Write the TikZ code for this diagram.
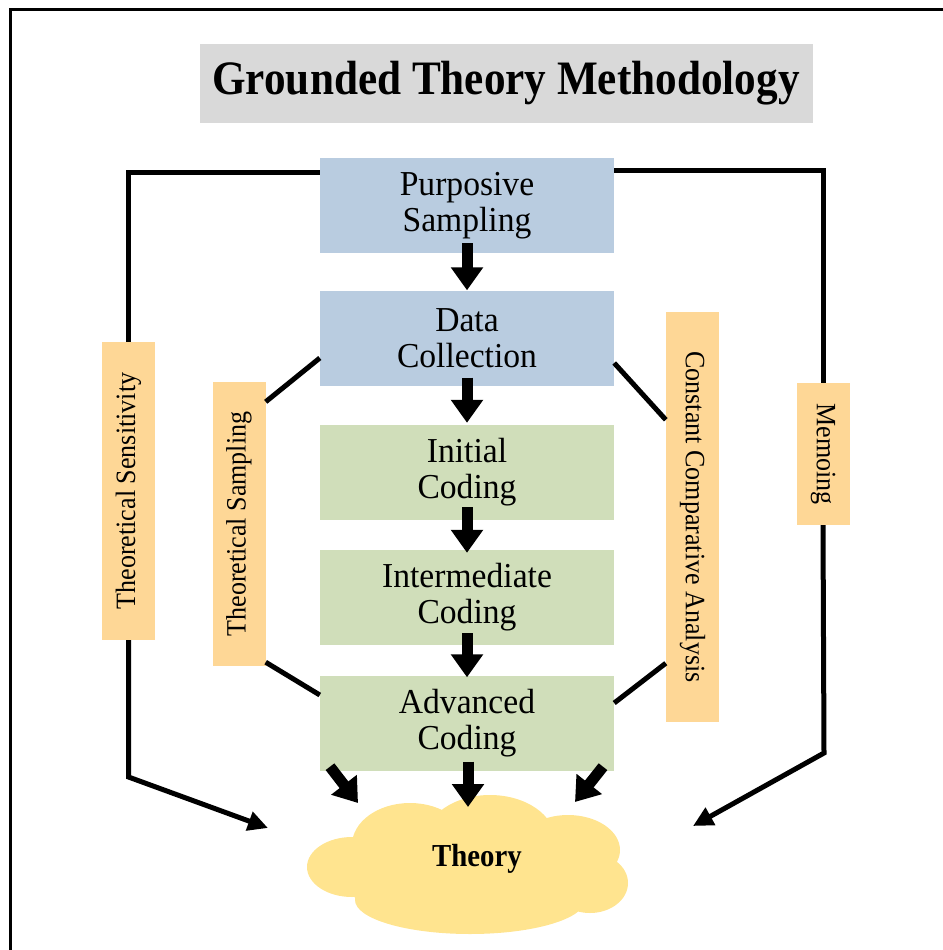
\documentclass[tikz,border=0pt]{standalone}
\usepackage{fontspec}
\setmainfont[FakeStretch=0.9]{Liberation Serif}
\newfontfamily\stagefont[FakeStretch=0.96]{Liberation Serif}
\newfontfamily\sidefont[FakeStretch=0.93]{Liberation Serif}
\usetikzlibrary{arrows.meta}

\definecolor{titlegray}{HTML}{D9D9D9}
\definecolor{stageblue}{HTML}{B9CCE0}
\definecolor{stagegreen}{HTML}{D0DEBA}
\definecolor{sideorange}{HTML}{FED796}
\definecolor{cloudyellow}{HTML}{FFE48F}

\begin{document}
\begin{tikzpicture}[x=1pt,y=-1pt,
  stage/.style={minimum width=294pt, minimum height=95pt, inner sep=0pt,
    align=center, font=\stagefont\fontsize{35}{36}\selectfont},
  planstage/.style={stage, fill=stageblue},
  codestage/.style={stage, fill=stagegreen},
  sidebox/.style={fill=sideorange, inner sep=0pt, minimum height=53pt,
    font=\sidefont\fontsize{28}{30}\selectfont},
  link/.style={line width=5pt},
  linkarrow/.style={link, -{Triangle[length=20pt,width=19pt]}},
  flow/.style={line width=11pt, -{Triangle[length=23pt,width=31pt]}},
]
\useasboundingbox (0,0) rectangle (942,950);

% frame
\draw[line width=3pt] (10.5,960) -- (10.5,9.5) -- (950,9.5);

% title
\node[fill=titlegray, minimum width=613pt, minimum height=79pt, inner sep=0pt,
  font=\fontsize{48}{50}\selectfont\bfseries] (title) at (506,83.5)
  {Grounded Theory Methodology};

% stages
\node[planstage] (ps)  at (467,205.5) {Purposive\\Sampling};
\node[planstage] (dc)  at (467,338)   {Data\\Collection};
\node[codestage] (ic)  at (467,472.5) {Initial\\Coding};
\node[codestage] (imc) at (467,597.5) {Intermediate\\Coding};
\node[codestage] (adv) at (467,723)   {Advanced\\Coding};

% side labels
\node[sidebox, rotate=90,  minimum width=298pt] (tsens) at (128.5,491) {Theoretical Sensitivity};
\node[sidebox, rotate=90,  minimum width=284pt] (tsamp) at (239,524)   {Theoretical Sampling};
\node[sidebox, rotate=-90, minimum width=410pt] (cca)   at (692.5,517) {Constant Comparative Analysis};
\node[sidebox, rotate=-90, minimum width=142pt] (memo)  at (823,454)   {Memoing};

% theory cloud, built from overlapping lobes
\fill[cloudyellow]
  (352,867) ellipse [x radius=45, y radius=30]
  (410,845) ellipse [x radius=58, y radius=42]
  (490,840) ellipse [x radius=65, y radius=45]
  (568,850) ellipse [x radius=52, y radius=35]
  (590,883) ellipse [x radius=38, y radius=30]
  (470,900) ellipse [x radius=115, y radius=34]
  (395,890) ellipse [x radius=42, y radius=26]
  (470,868) ellipse [x radius=130, y radius=45];
\node[font=\fontsize{32}{34}\selectfont\bfseries] (theory) at (477,859) {Theory};

% free ends of the connectors
\coordinate (tsbend) at (128.5,777);
\coordinate (tsend)  at (268,828);
\coordinate (mbend)  at (824,753);
\coordinate (mend)   at (693,826);
\coordinate (tleft)  at (358,803);
\coordinate (tmid)   at (468,807);
\coordinate (tright) at (575,802);

% outer loops
\draw[link] ([yshift=33pt]ps.west) -| (tsens.east);
\draw[linkarrow] (tsens.west) -- (tsbend) -- (tsend);
\draw[link] ([yshift=35pt]ps.east) -| (memo.west);
\draw[linkarrow] (memo.east) -- (mbend) -- (mend);

% inner links
\draw[link] ([yshift=-20pt]dc.west) -- ([yshift=-20pt]tsamp.south east);
\draw[link] ([yshift=4pt]tsamp.south west) -- ([yshift=28pt]adv.west);
\draw[link] ([yshift=-25pt]dc.east) -- ([yshift=-108pt]cca.south west);
\draw[link] ([yshift=20pt]adv.east) -- ([yshift=59pt]cca.south east);

% main flow
\draw[flow] ([yshift=10pt]ps.south) -- (dc.north);
\draw[flow] ([yshift=8pt]dc.south) -- ([yshift=2pt]ic.north);
\draw[flow] ([yshift=13pt]ic.south) -- ([yshift=-3pt]imc.north);
\draw[flow] ([yshift=12pt]imc.south) -- ([yshift=-2pt]adv.north);
\draw[flow] ([xshift=-137pt,yshift=4pt]adv.south) -- (tleft);
\draw[flow] ([xshift=1pt,yshift=9pt]adv.south) -- (tmid);
\draw[flow] ([xshift=136pt,yshift=4pt]adv.south) -- (tright);
\end{tikzpicture}
\end{document}
